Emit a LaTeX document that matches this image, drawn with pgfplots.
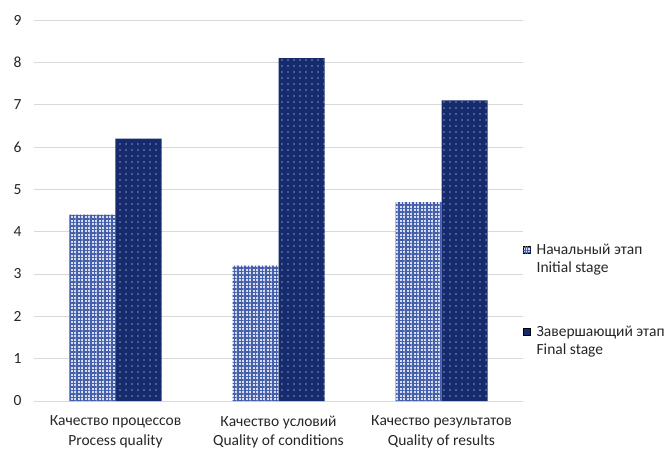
\documentclass[border=0pt]{standalone}
\usepackage{fontspec}
\setmainfont{Carlito}
\usepackage{pgfplots}
\pgfplotsset{compat=1.18}
\usetikzlibrary{patterns,patterns.meta}
\definecolor{navy}{RGB}{22,43,110}
\definecolor{lightb}{RGB}{215,221,240}
\definecolor{hatchb}{RGB}{70,95,170}
\definecolor{gridc}{RGB}{217,217,217}
\definecolor{txt}{RGB}{38,38,38}
\newcommand{\lstrut}{\rule[-5pt]{0pt}{18pt}}
\begin{document}
\begin{tikzpicture}[font=\fontsize{15.5}{18}\selectfont]
\begin{axis}[
  scale only axis, width=489pt, height=381pt,
  ymin=0, ymax=9, ytick={0,1,...,9},
  xmin=-0.5, xmax=2.5, xtick={0,1,2},
  xticklabels={{Качество процессов\\Process quality},{Качество условий\\Quality of conditions},{Качество результатов\\Quality of results}},
  xticklabel style={align=center, yshift=-7pt, text=txt, font=\fontsize{15.5}{19.5}\selectfont},
  yticklabel style={xshift=-9pt, text=txt},
  ybar=0pt, bar width=46pt,
  axis line style={draw=none},
  tick style={draw=none},
  ymajorgrids, grid style={gridc, line width=1pt},
  /pgf/number format/assume math mode=true,
  legend style={at={(1,0.265)}, anchor=west, xshift=-3pt, draw=none, fill=none,
    nodes={inner sep=0pt, text depth=5pt, text=txt}, row sep=0pt, column sep=6pt},
  legend cell align=left,
  legend image code/.code={\draw[#1] (0pt,-3.5pt) rectangle (7pt,3.5pt);},
]
\addplot[forget plot, bar shift=-23pt, draw=none, fill=lightb,
  postaction={pattern={Hatch[angle=0, distance=3.5pt, line width=1.1pt]}, pattern color=hatchb}]
  coordinates {(0,4.4) (1,3.2) (2,4.7)};
\addplot[forget plot, bar shift=23pt, draw=none, fill=navy,
  postaction={pattern={Dots[distance=6pt, radius=0.7pt]}, pattern color=white}]
  coordinates {(0,6.2) (1,8.1) (2,7.1)};
\addlegendimage{draw=none, fill=lightb, postaction={pattern={Hatch[angle=0, distance=2.5pt, line width=0.8pt]}, pattern color=hatchb}}
\addlegendentry{\lstrut Начальный этап}
\addlegendimage{empty legend}
\addlegendentry{\lstrut Initial stage}
\addlegendimage{empty legend}
\addlegendentry{\rule{0pt}{41pt}}
\addlegendimage{draw=none, fill=navy}
\addlegendentry{\lstrut Завершающий этап}
\addlegendimage{empty legend}
\addlegendentry{\lstrut Final stage}
\end{axis}
\pgfresetboundingbox
\path (current axis.south west) ++(-34pt,-49pt) rectangle ++(669pt,450pt);
\end{tikzpicture}
\end{document}
